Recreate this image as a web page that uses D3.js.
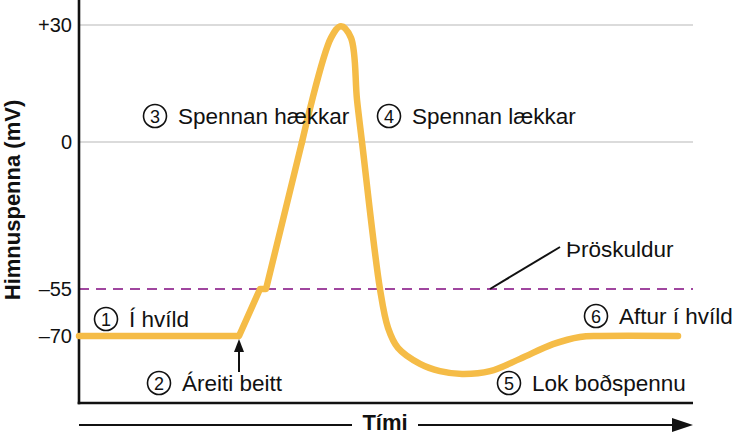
<!DOCTYPE html>
<html>
<head>
<meta charset="utf-8">
<script src="https://cdn.jsdelivr.net/npm/d3@7"></script>
<style>
  html, body { margin: 0; padding: 0; background: #fff; }
  svg { display: block; font-family: "Liberation Sans", Arial, Helvetica, sans-serif; }
</style>
</head>
<body>
<svg id="chart" width="739" height="435"></svg>
<script>
// ---- data ----
const yTickValues = [30, 0, -55, -70];
const yTickLabels = ["+30", "0", "\u201355", "\u201370"];
const gridValues = [30, 0];
const thresholdValue = -55;
const thresholdLabel = "Þröskuldur";
const yTitle = "Himnuspenna (mV)";
const xTitle = "Tími";

// depolarisation phase (time units, mV) – straight segments
const riseTime = [0, 26.06, 29.48, 30.46, 36.32];
const riseMV   = [-70, -70, -55, -55, 0];
// peak, repolarisation, hyperpolarisation, recovery – smooth
const fallTime = [36.32, 41.04, 42.67, 44.30, 45.28, 46.09, 49.02, 50.33, 51.95, 55.54, 58.79, 62.38, 66.94, 71.82, 77.2, 81.6, 84.85, 97.56];
const fallMV   = [0, 26.7, 29.7, 26.7, 10.8, 0, -55, -67.4, -73.8, -78.9, -81.2, -82.1, -81.2, -77.3, -72.6, -70.3, -70, -70];

const stimulusTime = 26.06;
const stageNumbers = ["1", "2", "3", "4", "5", "6"];
const stageLabels = ["Í hvíld", "Áreiti beitt", "Spennan hækkar", "Spennan lækkar", "Lok boðspennu", "Aftur í hvíld"];

// ---- layout ----
const svg = d3.select("#chart");
const x = d3.scaleLinear().domain([0, 100]).range([79, 693]);
const y = d3.scaleLinear().domain([30, 0, -55, -70]).range([25, 142, 289, 336]);
const axisBottomY = 403;

const curveColor = "#f5bc47";
const purple = "#a0469f";

// gridlines
svg.append("g").selectAll("line").data(gridValues).join("line")
  .attr("x1", x(0)).attr("x2", x(100))
  .attr("y1", d => y(d)).attr("y2", d => y(d))
  .attr("stroke", "#cfcfcf").attr("stroke-width", 1.6);

// threshold dashed line
svg.append("line")
  .attr("x1", x(0)).attr("x2", x(100))
  .attr("y1", y(thresholdValue)).attr("y2", y(thresholdValue))
  .attr("stroke", purple).attr("stroke-width", 2)
  .attr("stroke-dasharray", "10,7");

// y axis via d3.axisLeft
const yAxis = d3.axisLeft(y).tickValues(yTickValues)
  .tickFormat((d, i) => yTickLabels[i]).tickSize(0).tickPadding(7);
const gy = svg.append("g").attr("transform", `translate(${x(0)},0)`).call(yAxis);
gy.select(".domain").remove();
gy.selectAll("text").attr("font-size", 20).attr("fill", "#111")
  .style("font-family", "'Liberation Sans', Arial, sans-serif");

// axis lines
svg.append("line").attr("x1", x(0)).attr("x2", x(0)).attr("y1", 0).attr("y2", axisBottomY + 1.25)
  .attr("stroke", "#111").attr("stroke-width", 2.6);
svg.append("line").attr("x1", x(0) - 1.3).attr("x2", x(100)).attr("y1", axisBottomY).attr("y2", axisBottomY)
  .attr("stroke", "#111").attr("stroke-width", 2.6);

// y title
svg.append("text")
  .attr("transform", `translate(20,200) rotate(-90)`)
  .attr("text-anchor", "middle")
  .attr("font-size", 22).attr("font-weight", "bold").attr("fill", "#111")
  .text(yTitle);

// x title with arrow
const tY = 425;
svg.append("line").attr("x1", x(0)).attr("x2", 352).attr("y1", tY).attr("y2", tY)
  .attr("stroke", "#111").attr("stroke-width", 2);
svg.append("line").attr("x1", 418).attr("x2", 676).attr("y1", tY).attr("y2", tY)
  .attr("stroke", "#111").attr("stroke-width", 2);
svg.append("path").attr("d", `M672,${tY - 7} L693,${tY} L672,${tY + 7} Z`).attr("fill", "#111");
svg.append("text").attr("x", 385).attr("y", tY + 5).attr("text-anchor", "middle")
  .attr("font-size", 22).attr("font-weight", "bold").attr("fill", "#111").text(xTitle);

// curve
const riseData = riseTime.map((t, i) => [t, riseMV[i]]);
const fallData = fallTime.map((t, i) => [t, fallMV[i]]);
const lineLin = d3.line().x(d => x(d[0])).y(d => y(d[1])).curve(d3.curveLinear);
const lineSmooth = d3.line().x(d => x(d[0])).y(d => y(d[1])).curve(d3.curveCatmullRom.alpha(0.5));
[[riseData, lineLin], [fallData, lineSmooth]].forEach(([data, gen]) => {
  svg.append("path").attr("d", gen(data)).attr("fill", "none")
    .attr("stroke", curveColor).attr("stroke-width", 6.5)
    .attr("stroke-linecap", "round").attr("stroke-linejoin", "round");
});

// stimulus arrow
const sx = x(stimulusTime);
svg.append("line").attr("x1", sx).attr("x2", sx).attr("y1", y(-70) + 12).attr("y2", 372)
  .attr("stroke", "#111").attr("stroke-width", 2);
svg.append("path").attr("d", `M${sx},${y(-70) + 3} L${sx + 5},${y(-70) + 16} L${sx - 5},${y(-70) + 16} Z`).attr("fill", "#111");

// threshold leader + label
svg.append("line").attr("x1", 490).attr("y1", y(thresholdValue)).attr("x2", 560).attr("y2", 247)
  .attr("stroke", "#111").attr("stroke-width", 2);
svg.append("text").attr("x", 566).attr("y", 257).attr("font-size", 22.5).attr("fill", "#111").text(thresholdLabel);

// stage annotations (circled numbers)
const stagePos = [[106, 319], [159, 383], [155, 116], [389, 116], [509, 383], [596, 316]];
stageLabels.forEach((lab, i) => {
  const [cx, cy] = stagePos[i];
  const g = svg.append("g");
  g.append("circle").attr("cx", cx).attr("cy", cy).attr("r", 11.5)
    .attr("fill", "none").attr("stroke", "#111").attr("stroke-width", 1.6);
  g.append("text").attr("x", cx).attr("y", cy + 6.5).attr("text-anchor", "middle")
    .attr("font-size", 18).attr("fill", "#111").text(stageNumbers[i]);
  g.append("text").attr("x", cx + 23).attr("y", cy + 8).attr("font-size", 22.5)
    .attr("fill", "#111").text(lab);
});
</script>
</body>
</html>
